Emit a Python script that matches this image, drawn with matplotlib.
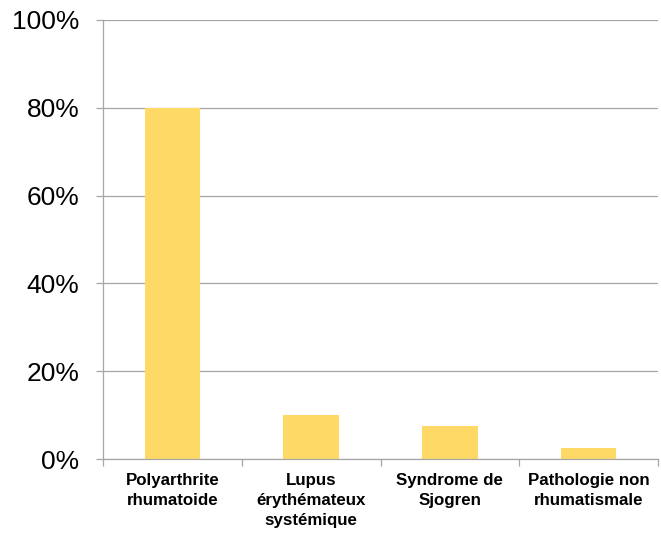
import matplotlib.pyplot as plt
import numpy as np
from matplotlib.ticker import FuncFormatter

# donnees
categories = ['Polyarthrite\nrhumatoide', 'Lupus\nérythémateux\nsystémique',
              'Syndrome de\nSjogren', 'Pathologie non\nrhumatismale']
valeurs = [80, 10, 7.5, 2.5]
yticks = [0, 20, 40, 60, 80, 100]

plt.rcParams['font.family'] = ['Liberation Sans', 'DejaVu Sans']

fig = plt.figure(figsize=(6.61, 5.33), dpi=100)
ax = fig.add_axes([0.1558, 0.1388, 0.8397, 0.8237])

x = np.arange(len(categories))
ax.bar(x, valeurs, width=0.4, color='#FFD966', zorder=2)

ax.set_ylim(0, 100)
ax.set_xlim(-0.5, len(categories) - 0.5)
ax.set_yticks(yticks)
ax.yaxis.set_major_formatter(FuncFormatter(lambda v, p: '%d%%' % v))
ax.grid(axis='y', color='#A6A6A6', linewidth=0.9, zorder=0)

# ticks entre les categories
ax.set_xticks(np.arange(-0.5, len(categories), 1.0))
ax.set_xticklabels([])
ax.set_xticks(x, minor=True)
ax.set_xticklabels(categories, minor=True, fontsize=12.2, fontweight='bold',
                   va='top', linespacing=1.4)
ax.tick_params(axis='x', which='minor', length=0, pad=10)
ax.tick_params(axis='x', which='major', length=5, color='#A6A6A6', width=0.9)
ax.tick_params(axis='y', length=5, color='#A6A6A6', width=0.9, labelsize=19, pad=12)

for s in ['top', 'right']:
    ax.spines[s].set_visible(False)
for s in ['left', 'bottom']:
    ax.spines[s].set_color('#A6A6A6')
    ax.spines[s].set_linewidth(0.9)

fig.savefig('out.png', dpi=100)
